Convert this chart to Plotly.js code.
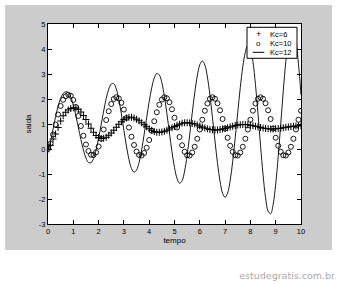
<!DOCTYPE html>
<html><head><meta charset="utf-8">
<script src="https://cdn.plot.ly/plotly-3.0.1.min.js"></script>
<style>
html,body{margin:0;padding:0;background:#fff;width:337px;height:284px;overflow:hidden;}
#chart{position:absolute;left:5px;top:5px;width:327px;height:245px;}
#wm{position:absolute;right:2px;top:270px;font-family:'DejaVu Sans',sans-serif;font-size:9.5px;color:#a9a9a9;line-height:12px;white-space:nowrap;}
</style></head><body>
<div id="chart"></div>
<div id="wm">estudegratis.com.br</div>
<script>
// time samples (tempo)
var tempo = [0,0.1,0.2,0.3,0.4,0.5,0.6,0.7,0.8,0.9,1,1.1,1.2,1.3,1.4,1.5,1.6,1.7,1.8,1.9,2,2.1,2.2,2.3,2.4,2.5,2.6,2.7,2.8,2.9,3,3.1,3.2,3.3,3.4,3.5,3.6,3.7,3.8,3.9,4,4.1,4.2,4.3,4.4,4.5,4.6,4.7,4.8,4.9,5,5.1,5.2,5.3,5.4,5.5,5.6,5.7,5.8,5.9,6,6.1,6.2,6.3,6.4,6.5,6.6,6.7,6.8,6.9,7,7.1,7.2,7.3,7.4,7.5,7.6,7.7,7.8,7.9,8,8.1,8.2,8.3,8.4,8.5,8.6,8.7,8.8,8.9,9,9.1,9.2,9.3,9.4,9.5,9.6,9.7,9.8,9.9,10];

// saida for Kc=6
var saidaKc6 = [0.00,0.15,0.40,0.60,0.86,1.12,1.33,1.47,1.56,1.62,1.65,1.64,1.59,1.48,1.34,1.18,1.00,0.83,0.67,0.54,0.46,0.42,0.43,0.47,0.55,0.64,0.75,0.87,0.99,1.09,1.18,1.24,1.27,1.27,1.24,1.19,1.13,1.05,0.97,0.89,0.81,0.75,0.70,0.67,0.67,0.68,0.71,0.75,0.80,0.85,0.90,0.95,0.99,1.03,1.05,1.05,1.04,1.02,1.00,0.96,0.92,0.88,0.84,0.81,0.78,0.77,0.76,0.76,0.78,0.80,0.82,0.85,0.88,0.91,0.94,0.96,0.97,0.98,0.98,0.97,0.95,0.93,0.91,0.89,0.86,0.84,0.82,0.81,0.80,0.80,0.81,0.82,0.83,0.85,0.87,0.88,0.90,0.91,0.92,0.93,0.93];

// saida for Kc=10
var saidaKc10 = [0.00,0.22,0.58,0.98,1.38,1.72,1.97,2.11,2.17,2.13,1.96,1.68,1.32,0.92,0.53,0.18,-0.08,-0.23,-0.24,-0.13,0.10,0.41,0.78,1.16,1.51,1.80,2.00,2.07,2.02,1.85,1.58,1.24,0.86,0.49,0.16,-0.10,-0.24,-0.26,-0.16,0.05,0.36,0.73,1.11,1.47,1.77,1.98,2.07,2.03,1.87,1.59,1.25,0.86,0.48,0.15,-0.11,-0.25,-0.26,-0.14,0.09,0.41,0.78,1.17,1.53,1.82,2.01,2.07,2.01,1.83,1.55,1.20,0.82,0.45,0.13,-0.11,-0.25,-0.26,-0.14,0.09,0.41,0.78,1.17,1.53,1.82,2.01,2.07,2.01,1.83,1.55,1.20,0.82,0.45,0.13,-0.11,-0.25,-0.26,-0.14,0.09,0.41,0.78,1.17,1.53];

// saida for Kc=12
var saidaKc12 = [0.00,0.30,0.80,1.30,1.72,2.03,2.22,2.29,2.26,2.08,1.76,1.34,0.86,0.38,-0.04,-0.36,-0.54,-0.55,-0.38,-0.04,0.43,0.97,1.52,2.02,2.39,2.60,2.61,2.40,1.98,1.40,0.75,0.12,-0.42,-0.78,-0.93,-0.84,-0.53,-0.04,0.58,1.25,1.90,2.45,2.84,3.02,2.96,2.65,2.10,1.41,0.64,-0.11,-0.74,-1.18,-1.37,-1.27,-0.88,-0.25,0.56,1.43,2.25,2.92,3.37,3.52,3.36,2.88,2.16,1.27,0.32,-0.57,-1.29,-1.77,-1.93,-1.76,-1.26,-0.50,0.45,1.47,2.46,3.29,3.87,4.15,4.05,3.50,2.58,1.41,0.15,-1.03,-1.95,-2.49,-2.59,-2.21,-1.41,-0.29,1.01,2.33,3.50,4.38,4.84,4.84,4.34,3.41,2.17];

var seriesNames = ['Kc=6','Kc=10','Kc=12'];
var xTickVals = [0,1,2,3,4,5,6,7,8,9,10];
var xTickText = ['0','1','2','3','4','5','6','7','8','9','10'];
var yTickVals = [-3,-2,-1,0,1,2,3,4,5];
var yTickText = ['-3','-2','-1','0','1','2','3','4','5'];

var traces = [
  {x: tempo, y: saidaKc6, name: seriesNames[0], type:'scatter', mode:'markers',
   marker:{symbol:'cross-thin-open', size:5, line:{color:'#000', width:1}, color:'#000'}},
  {x: tempo, y: saidaKc10, name: seriesNames[1], type:'scatter', mode:'markers',
   marker:{symbol:'circle-open', size:5, line:{color:'#000', width:0.9}, color:'#000'}},
  {x: tempo, y: saidaKc12, name: seriesNames[2], type:'scatter', mode:'lines',
   line:{color:'#000', width:0.9, shape:'spline', smoothing:1}}
];

var fontTick = {family:'Liberation Sans, Arial, sans-serif', size:7.5, color:'#000'};
var axBase = {
  ticks:'inside', ticklen:4, tickwidth:1, tickcolor:'#000',
  showline:true, linecolor:'#000', linewidth:1, mirror:'ticks',
  showgrid:false, zeroline:false, tickfont:fontTick, tickmode:'array'
};

// custom legend (box + entries) in paper coordinates
var legX0 = 0.7866, legX1 = 0.9842, legY0 = 0.8285, legY1 = 0.9835;
var legSymX = 0.8328, legTextX = 0.8684;
var legRowY = [0.950, 0.9035, 0.8585];

var layout = {
  width:327, height:245,
  margin:{l:43, r:31, t:19, b:26, pad:0},
  paper_bgcolor:'#cccccc', plot_bgcolor:'#ffffff',
  showlegend:false,
  xaxis: Object.assign({}, axBase, {range:[0,10], tickvals:xTickVals, ticktext:xTickText,
     title:{text:'tempo', font:{family:'Liberation Sans, Arial, sans-serif', size:8, color:'#000'}, standoff:2}}),
  yaxis: Object.assign({}, axBase, {range:[-3,5], tickvals:yTickVals, ticktext:yTickText,
     title:{text:'saida', font:{family:'Liberation Sans, Arial, sans-serif', size:8, color:'#000'}, standoff:6}}),
  shapes:[
    {type:'rect', xref:'paper', yref:'paper', x0:legX0, x1:legX1, y0:legY0, y1:legY1,
     fillcolor:'#ffffff', line:{color:'#000', width:1}, layer:'above'},
    {type:'line', xref:'paper', yref:'paper', x0:0.8091, x1:0.8549, y0:legRowY[2], y1:legRowY[2],
     line:{color:'#000', width:1}, layer:'above'}
  ],
  annotations:[
    {xref:'paper', yref:'paper', x:legSymX, y:legRowY[0], text:'+', showarrow:false, xanchor:'center', yanchor:'middle', font:{family:'Liberation Sans', size:9, color:'#000'}},
    {xref:'paper', yref:'paper', x:legSymX, y:legRowY[1], text:'o', showarrow:false, xanchor:'center', yanchor:'middle', font:{family:'Liberation Sans', size:8, color:'#000'}},
    {xref:'paper', yref:'paper', x:legTextX, y:legRowY[0], text:seriesNames[0], showarrow:false, xanchor:'left', yanchor:'middle', font:fontTick},
    {xref:'paper', yref:'paper', x:legTextX, y:legRowY[1], text:seriesNames[1], showarrow:false, xanchor:'left', yanchor:'middle', font:fontTick},
    {xref:'paper', yref:'paper', x:legTextX, y:legRowY[2], text:seriesNames[2], showarrow:false, xanchor:'left', yanchor:'middle', font:fontTick}
  ]
};

Plotly.newPlot('chart', traces, layout, {staticPlot:true, displayModeBar:false});
</script>
</body></html>
